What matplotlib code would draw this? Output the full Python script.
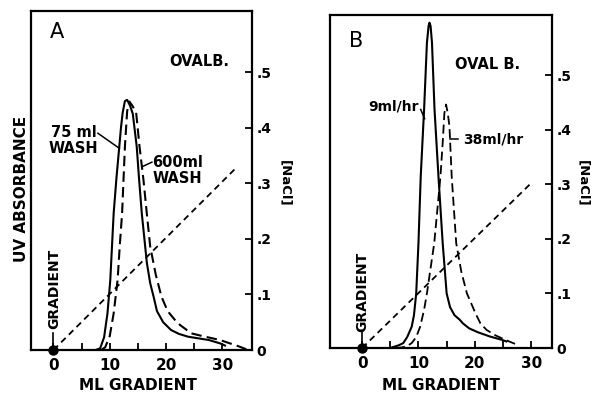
import matplotlib
matplotlib.use('Agg')
import matplotlib.pyplot as plt

plt.rcParams['font.family'] = ['DejaVu Sans']
plt.rcParams['font.weight'] = 'bold'

# panel A: ovalbumin, 75 ml wash (solid) vs 600 ml wash (dashed)
a_wash75_x = [7.5, 8.3, 9.0, 9.6, 10.1, 10.7, 11.2, 11.7, 12.0, 12.3, 12.7, 13.1, 13.6, 14.1,
              14.8, 15.2, 15.7, 16.6, 17.2, 17.8, 18.4, 19.5, 20.9, 22.3, 23.9, 27.6, 29.6, 30.5]
a_wash75_y = [0, 0.003, 0.023, 0.066, 0.126, 0.246, 0.31, 0.366, 0.40, 0.427, 0.448, 0.45, 0.44,
              0.425, 0.366, 0.31, 0.246, 0.157, 0.12, 0.096, 0.07, 0.05, 0.036, 0.029, 0.024,
              0.018, 0.012, 0.008]
a_wash600_x = [8.5, 9.2, 10.0, 10.7, 11.4, 11.8, 12.2, 12.7, 13.1, 13.5, 14.0, 14.7, 15.3, 16.0,
               16.6, 17.2, 18.2, 19.2, 20.3, 21.6, 22.5, 24.5, 26.5, 29.6, 33.1, 34.6]
a_wash600_y = [0, 0.005, 0.025, 0.066, 0.126, 0.19, 0.246, 0.366, 0.43, 0.447, 0.44, 0.427,
               0.366, 0.306, 0.245, 0.186, 0.135, 0.096, 0.07, 0.054, 0.045, 0.03, 0.025, 0.018,
               0.006, 0.0]
a_salt_x = [0, 32.2]
a_salt_y = [0, 0.325]

# panel B: ovalbumin, 9 ml/hr (solid) vs 38 ml/hr (dashed)
b_slow_x = [5.0, 5.6, 6.5, 7.3, 8.0, 8.8, 9.2, 9.6, 10.0, 10.4, 11.0, 11.5, 11.8, 11.95, 12.15,
            12.4, 12.85, 13.55, 14.3, 15.0, 15.6, 16.4, 17.3, 17.9, 19.0, 20.5, 22.7, 24.8, 25.6]
b_slow_y = [0, 0.002, 0.005, 0.009, 0.02, 0.039, 0.06, 0.1, 0.192, 0.314, 0.437, 0.559, 0.59,
            0.596, 0.59, 0.559, 0.437, 0.314, 0.192, 0.1, 0.075, 0.06, 0.052, 0.045, 0.036,
            0.029, 0.021, 0.015, 0.012]
b_fast_x = [6.0, 7.0, 7.9, 8.8, 9.6, 10.3, 11.0, 11.5, 12.8, 13.9, 14.3, 14.6, 14.9, 15.2, 15.5,
            15.9, 16.7, 17.6, 18.6, 20.1, 21.0, 22.1, 23.7, 25.4, 27.5]
b_fast_y = [0, 0.001, 0.003, 0.009, 0.02, 0.039, 0.07, 0.1, 0.192, 0.314, 0.376, 0.43, 0.446,
            0.43, 0.406, 0.314, 0.192, 0.14, 0.1, 0.064, 0.045, 0.033, 0.023, 0.015, 0.006]
b_salt_x = [0, 29.8]
b_salt_y = [0, 0.30]

yticks = [0, 0.1, 0.2, 0.3, 0.4, 0.5]
ylabels = ['0', '.1', '.2', '.3', '.4', '.5']
xticks = [0, 10, 20, 30]
xminor = [5, 15, 25]

fig = plt.figure(figsize=(5.95, 3.94), dpi=100)
axA = fig.add_axes([31/595, 44/394, 221/595, 339/394])
axB = fig.add_axes([330/595, 46/394, 222/595, 333/394])


def setup(ax, xlim):
    ax.set_xlim(xlim)
    ax.set_ylim(0, 0.61)
    for s in ax.spines.values():
        s.set_linewidth(1.6)
    ax.yaxis.tick_right()
    ax.set_yticks(yticks)
    ax.set_yticklabels(ylabels, fontsize=10, fontweight='bold')
    ax.set_xticks(xticks)
    ax.set_xticks(xminor, minor=True)
    ax.set_xticklabels([str(t) for t in xticks], fontsize=11, fontweight='bold')
    ax.tick_params(axis='x', which='both', direction='in', length=5, width=1.3, pad=6, top=False)
    ax.tick_params(axis='y', direction='in', length=5, width=1.3, pad=3, left=False, right=True)


def gradient_mark(ax, y_text):
    ax.plot([0], [0], 'o', color='black', ms=6.5, clip_on=False, zorder=5)
    ax.plot([0, 0], [0.005, 0.03], color='black', lw=1.2)
    ax.text(0.1, y_text, 'GRADIENT', rotation=90, ha='center', va='center', fontsize=10)


setup(axA, (-4.0, 35.3))
axA.plot(a_wash75_x, a_wash75_y, color='black', lw=1.5)
axA.plot(a_wash600_x, a_wash600_y, color='black', lw=1.5, dashes=(5, 2.5))
axA.plot(a_salt_x, a_salt_y, color='black', lw=1.3, dashes=(3.5, 2.5))
gradient_mark(axA, 0.11)
axA.text(0.7, 0.573, 'A', fontsize=15, fontweight='normal', ha='center', va='center')
axA.text(25.9, 0.519, 'OVALB.', fontsize=10.5, ha='center', va='center')
axA.text(3.6, 0.377, '75 ml\nWASH', fontsize=10.5, ha='center', va='center', linespacing=1.1)
axA.plot([7.9, 11.7], [0.39, 0.363], color='black', lw=1.1)
axA.text(22.0, 0.323, '600ml\nWASH', fontsize=10.5, ha='center', va='center', linespacing=1.1)
axA.plot([15.8, 17.5], [0.33, 0.338], color='black', lw=1.1)

setup(axB, (-5.7, 33.7))
axB.plot(b_slow_x, b_slow_y, color='black', lw=1.5)
axB.plot(b_fast_x, b_fast_y, color='black', lw=1.3, dashes=(5, 2.5))
axB.plot(b_salt_x, b_salt_y, color='black', lw=1.3, dashes=(3.5, 2.5))
gradient_mark(axB, 0.103)
axB.text(-1.15, 0.562, 'B', fontsize=15, fontweight='normal', ha='center', va='center')
axB.text(22.3, 0.519, 'OVAL B.', fontsize=10.5, ha='center', va='center')
axB.text(5.6, 0.443, '9ml/hr', fontsize=10, ha='center', va='center')
axB.plot([10.4, 11.1], [0.437, 0.42], color='black', lw=1.1)
axB.text(23.2, 0.382, '38ml/hr', fontsize=10, ha='center', va='center')
axB.plot([15.6, 17.0], [0.382, 0.382], color='black', lw=1.1)

fig.text(137.5/595, 1 - 386/394, 'ML GRADIENT', fontsize=11, ha='center', va='center')
fig.text(440.8/595, 1 - 386/394, 'ML GRADIENT', fontsize=11, ha='center', va='center')
fig.text(22/595, 1 - 189/394, 'UV ABSORBANCE', fontsize=11, rotation=90, ha='center', va='center')
for xp in (285, 583):
    fig.text(xp/595, 1 - 183/394, '[NaCl]', fontsize=9.5, rotation=-90, ha='center', va='center')

fig.savefig('out.png', dpi=100)
